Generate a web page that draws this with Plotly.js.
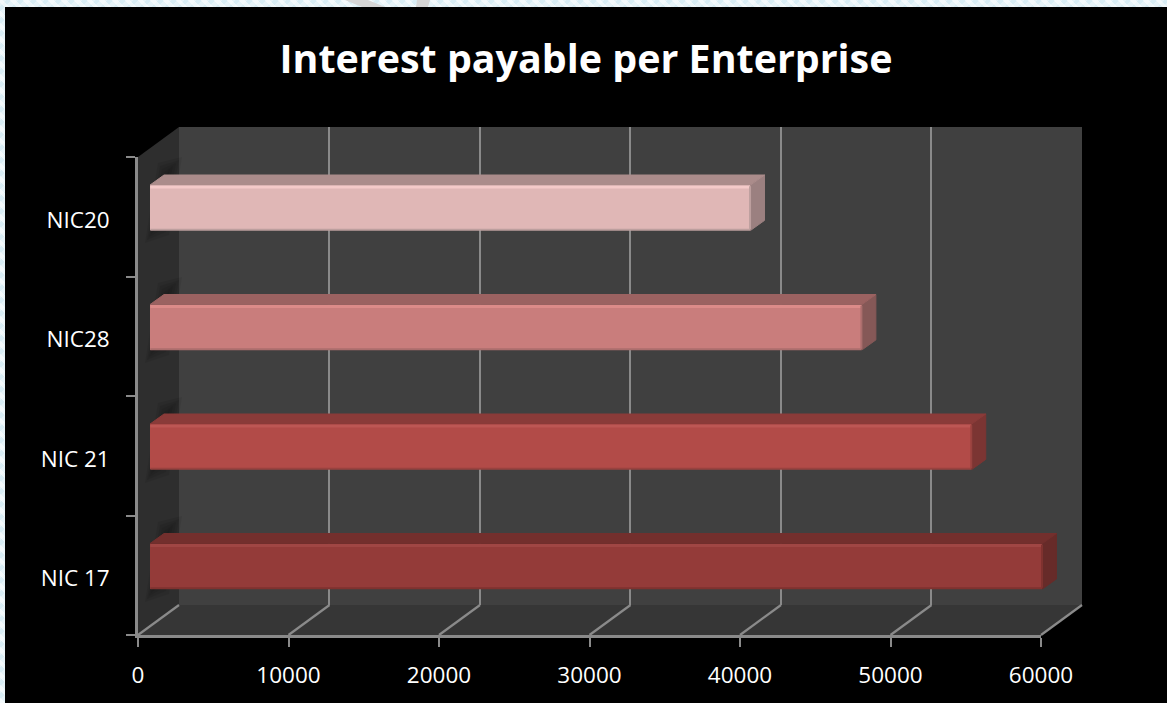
<!DOCTYPE html>
<html>
<head>
<meta charset="utf-8">
<script src="https://cdn.plot.ly/plotly-3.0.1.min.js"></script>
<style>
html,body{margin:0;padding:0;width:1167px;height:703px;overflow:hidden;
background-color:#e6f3f8;
background-image:repeating-linear-gradient(45deg,rgba(255,255,255,.55) 0 4px,transparent 4px 9px),repeating-linear-gradient(-45deg,rgba(205,232,242,.55) 0 4px,transparent 4px 9px);}
#chart{width:1167px;height:703px;}
</style>
</head>
<body>
<div id="chart"></div>
<script>
const categories = ["NIC 17", "NIC 21", "NIC28", "NIC20"];
const values = [59300, 54600, 47300, 39900];
const xTicks = [0, 10000, 20000, 30000, 40000, 50000, 60000];
const xTickLabels = ["0", "10000", "20000", "30000", "40000", "50000", "60000"];

const frontColors = ["#943b39", "#b24b48", "#c97d7c", "#e0b7b6"];
const topColors   = ["#732f2d", "#8a3b39", "#9b6261", "#ab8c8b"];
const sideColors  = ["#672b29", "#7b3533", "#855857", "#9b8080"];
const lightColors = ["#a04644", "#bd5754", "#dc8b89", "#f4cac9"];
const darkColors  = ["#7f322f", "#98423f", "#ab6e6d", "#bd9f9e"];

const W = 1167, H = 703;
const px = x => x / W, py = y => 1 - y / H;
const xMax = 60000;
const DX = 930, DY = 0.084, HALF = 0.19;

const traces = [];
// back wall grid subplot
traces.push({type:"scatter", x:[0], y:[0], xaxis:"x", yaxis:"y", mode:"markers",
  marker:{opacity:0}, hoverinfo:"skip", showlegend:false});

categories.forEach((c, i) => {
  const v = values[i];
  traces.push({type:"scatter", xaxis:"x2", yaxis:"y2", mode:"lines", fill:"toself",
    x:[v, v+DX, v+DX, v, v], y:[i-HALF, i-HALF+DY, i+HALF+DY, i+HALF, i-HALF],
    fillcolor:sideColors[i], line:{color:sideColors[i], width:1, shape:"linear"}, hoverinfo:"skip", showlegend:false});
  traces.push({type:"scatter", xaxis:"x2", yaxis:"y2", mode:"lines", fill:"toself",
    x:[0, DX, v+DX, v, 0], y:[i+HALF, i+HALF+DY, i+HALF+DY, i+HALF, i+HALF],
    fillcolor:topColors[i], line:{color:topColors[i], width:1}, hoverinfo:"skip", showlegend:false});
});
traces.push({type:"bar", orientation:"h", xaxis:"x2", yaxis:"y2", name:"Interest payable",
  x:values, y:categories.map((c,i)=>i), width:HALF*2, text:categories, hoverinfo:"x+text", textposition:"none",
  marker:{color:frontColors, line:{width:0}, cornerradius:2}, showlegend:false});
categories.forEach((c, i) => {
  const v = values[i];
  traces.push({type:"scatter", xaxis:"x2", yaxis:"y2", mode:"lines", x:[20, v-20], y:[i+HALF-0.016, i+HALF-0.016],
    line:{color:lightColors[i], width:3}, hoverinfo:"skip", showlegend:false});
  traces.push({type:"scatter", xaxis:"x2", yaxis:"y2", mode:"lines", x:[20, v-20], y:[i-HALF+0.006, i-HALF+0.006],
    line:{color:darkColors[i], width:2}, hoverinfo:"skip", showlegend:false});
  traces.push({type:"scatter", xaxis:"x2", yaxis:"y2", mode:"lines", x:[v-30, v-30], y:[i-HALF+0.01, i+HALF-0.01],
    line:{color:darkColors[i], width:2}, hoverinfo:"skip", showlegend:false});
});
// front axis
traces.push({type:"scatter", xaxis:"x3", yaxis:"y3", x:values, y:categories, mode:"markers",
  marker:{opacity:0}, hoverinfo:"skip", showlegend:false});

const poly = pts => "M" + pts.map(p => px(p[0]) + "," + py(p[1])).join("L") + "Z";
const paper = {xref:"paper", yref:"paper", layer:"below"};
const shapes = [
  {...paper, type:"path", path:poly([[345,0],[368,0],[385,7],[362,7]]), fillcolor:"#d6d6d6", line:{width:0}},
  {...paper, type:"path", path:poly([[417,0],[430,0],[428,7],[416,7]]), fillcolor:"#d6d6d6", line:{width:0}},
  {...paper, type:"rect", x0:px(5), x1:1, y0:0, y1:py(7), fillcolor:"#000000", line:{width:0}},
  {...paper, type:"rect", x0:px(179), x1:px(1082), y0:py(605), y1:py(127), fillcolor:"#404040", line:{width:0}},
  {...paper, type:"path", path:poly([[138,157],[179,127],[179,605],[138,635]]), fillcolor:"#2e2e2e", line:{width:0}},
  {...paper, type:"path", path:poly([[138,635],[179,605],[1082,605],[1041,635]]), fillcolor:"#363636", line:{width:0}},
];
// soft shadows cast on the left wall
[185, 305, 425, 544].forEach(top => {
  [[0,24,.08],[2,21,.08],[4,18,.08],[6,15,.08],[8,12,.08]].forEach((s, k) => {
    shapes.push({...paper, type:"path",
      path:poly([[145+s[0],top+58-k*3],[145+s[1],top+50-k*3],[158+s[1],top-28+k*3],[158+s[0],top-22+k*3]]),
      fillcolor:"#000000", opacity:s[2], line:{width:0}});
  });
});
// floor grid lines follow the x ticks
xTicks.forEach(t => {
  const fx = 138 + t / xMax * 903;
  shapes.push({...paper, type:"line", x0:px(fx), y0:py(635), x1:px(fx+41), y1:py(605),
    line:{color:"#8a8a8a", width:2.2}});
});

const hidden = {showgrid:false, zeroline:false, showline:false, showticklabels:false, ticks:""};
const tickFont = {family:"'Open Sans', sans-serif", size:22.5, color:"#ffffff"};
const barDomainPx = 950;
const layout = {
  width:W, height:H, margin:{l:0,r:0,t:0,b:0,pad:0}, autosize:false,
  paper_bgcolor:"rgba(0,0,0,0)", plot_bgcolor:"rgba(0,0,0,0)",
  showlegend:false, bargap:0,
  title:{text:"<b>Interest payable per Enterprise</b>", x:586/W, xref:"paper", xanchor:"center",
    y:py(59), yref:"paper", yanchor:"middle",
    font:{family:"'Open Sans', sans-serif", size:39.4, color:"#ffffff"}},
  shapes:shapes,
  xaxis:{...hidden, domain:[px(178.5),px(1081.5)], range:[0,xMax], tickvals:xTicks, showgrid:true,
    gridcolor:"#8a8a8a", gridwidth:2.3, anchor:"y"},
  yaxis:{...hidden, domain:[py(605),py(127)], range:[0,1], anchor:"x"},
  xaxis2:{...hidden, domain:[px(150),px(150+barDomainPx)], range:[0,xMax*barDomainPx/903], anchor:"y2"},
  yaxis2:{...hidden, domain:[py(626),py(148)], range:[-0.5,3.5], anchor:"x2"},
  xaxis3:{domain:[px(138),px(1041)], range:[0,xMax], anchor:"y3", tickmode:"array", tickvals:xTicks, ticktext:xTickLabels,
    showgrid:false, zeroline:false, showline:true, linecolor:"#8a8a8a", linewidth:2.5,
    ticks:"outside", ticklen:9, tickwidth:2, tickcolor:"#8a8a8a", tickfont:tickFont, ticklabelstandoff:9},
  yaxis3:{domain:[py(635),py(157)], type:"category", categoryorder:"array", categoryarray:categories,
    range:[-0.5,3.5], anchor:"x3", tickson:"boundaries",
    showgrid:false, zeroline:false, showline:true, linecolor:"#8a8a8a", linewidth:2.5,
    ticks:"outside", ticklen:9, tickwidth:2, tickcolor:"#8a8a8a", tickfont:tickFont, ticklabelstandoff:21, ticklabelshift:3}
};
Plotly.newPlot("chart", traces, layout, {displayModeBar:false, responsive:false});
</script>
</body>
</html>
